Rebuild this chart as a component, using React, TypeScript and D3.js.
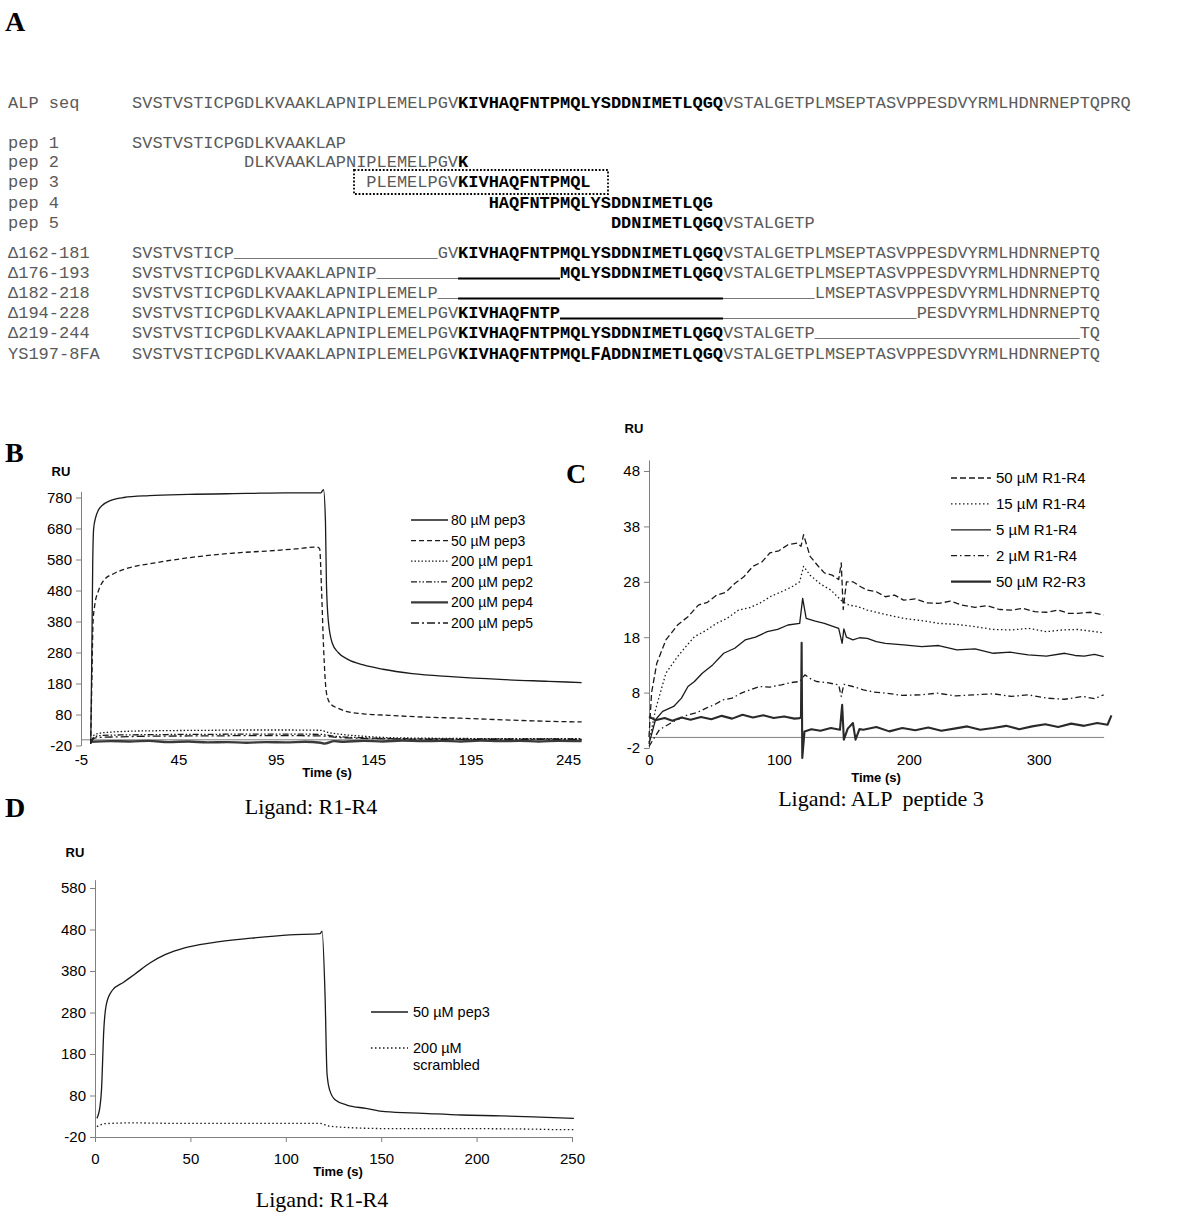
import React, { useEffect, useRef } from 'react'
import * as d3 from 'd3'

const W = 1200
const H = 1217
const SANS = '"Liberation Sans", Arial, sans-serif'
const SERIF = '"Liberation Serif", "Times New Roman", serif'
const MONO = '"Liberation Mono", "Courier New", monospace'

// ---- panel A: sequences ----
const alpSeq =
  'SVSTVSTICPGDLKVAAKLAPNIPLEMELPGVKIVHAQFNTPMQLYSDDNIMETLQGQVSTALGETPLMSEPTASVPPESDVYRMLHDNRNEPTQPRQ'
const boldFrom = 32
const boldTo = 58
const delEnd = 95
const pepLabels = ['pep 1', 'pep 2', 'pep 3', 'pep 4', 'pep 5']
const pepFrom = [0, 11, 23, 35, 47]
const pepTo = [21, 33, 45, 57, 67]
const delLabels = ['Δ162-181', 'Δ176-193', 'Δ182-218', 'Δ194-228', 'Δ219-244']
const delFrom = [10, 24, 30, 42, 67]
const delTo = [30, 42, 67, 77, 93]
const mutLabel = 'YS197-8FA'
const mutAt = 45
const mutLetters = 'FA'

// ---- panel B: ligand R1-R4 ----
const bT80 = [0, 0.6, 1, 1.5, 2.5, 4, 6, 10, 17, 30, 50, 80, 100, 118, 119.5, 120.5, 121, 122, 124, 127, 132, 140, 150, 165, 185, 210, 235, 252]
const bV80 = [-15, 300, 560, 680, 715, 740, 755, 770, 780, 786, 790, 793, 795, 795, 805, 700, 500, 380, 310, 280, 258, 240, 226, 212, 202, 193, 187, 183]
const bT50 = [0, 0.6, 1.2, 2, 4, 7, 12, 19, 32, 52, 72, 92, 105, 116, 117.5, 118.5, 119.5, 121, 123, 127, 131, 140, 151, 170, 190, 215, 235, 252]
const bV50 = [-15, 200, 380, 430, 480, 515, 535, 552, 568, 587, 600, 608, 614, 620, 615, 480, 300, 150, 115, 100, 90, 82, 78, 72, 68, 62, 58, 56]
const bTPep1 = [0, 2, 5, 10, 20, 40, 60, 80, 100, 118, 122, 130, 140, 150, 165, 185, 210, 235, 252]
const bVPep1 = [-10, 15, 20, 23, 26, 28, 29, 30, 30, 29, 22, 15, 10, 6, 4, 3, 2, 2, 2]
const bTLow = [0, 2, 5, 15, 30, 60, 90, 118, 125, 140, 160, 190, 220, 252]
const bVPep2 = [-10, 8, 12, 14, 15, 16, 17, 16, 10, 5, 2, 1, 1, 1]
const bVPep5 = [-10, 4, 6, 8, 10, 11, 12, 11, 7, 3, 1, 0, 0, 0]
const bTPep4 = [0, 10, 20, 30, 40, 50, 60, 70, 80, 90, 100, 110, 118, 120, 125, 130, 140, 150, 160, 170, 180, 190, 200, 210, 220, 230, 240, 252]
const bVPep4 = [-8, -6, -7, -5, -9, -7, -10, -9, -11, -9, -10, -8, -11, -14, -6, -8, -5, -7, -4, -6, -5, -7, -4, -6, -5, -7, -5, -6]
const bLegend = ['80 µM pep3', '50 µM pep3', '200 µM pep1', '200 µM pep2', '200 µM pep4', '200 µM pep5']

// ---- panel C: ligand ALP peptide 3 ----
const cT50 = [0, 2, 6, 13, 22, 30, 38, 45, 52, 59, 66, 73, 80, 87, 93, 100, 107, 114, 117, 119, 124, 130, 135, 141, 146, 148, 149.5, 152, 157, 163, 168, 175, 182, 189, 196, 205, 214, 223, 232, 241, 251, 260, 270, 279, 288, 297, 306, 315, 323, 330, 340, 350]
const cV50 = [0, 8, 13.3, 17.5, 20.2, 21.7, 23.8, 24.3, 25.6, 26.1, 27.7, 28.9, 30.8, 31.6, 33.2, 33.6, 34.7, 35, 34.4, 36.5, 32.6, 30.9, 29.6, 29.2, 28.4, 31.4, 23, 28, 28, 27.1, 26.5, 26.2, 25.3, 25.6, 24.7, 24.9, 24.2, 24.1, 24.5, 23.8, 23.4, 23.7, 23.0, 22.9, 23.2, 22.6, 22.5, 22.9, 22.3, 22.3, 22.5, 22]
const cT15 = [0, 5, 13, 22, 28, 35, 43, 52, 60, 69, 77, 85, 94, 102, 110, 116, 119, 124, 132, 140, 149, 154, 161, 168, 182, 196, 210, 223, 237, 251, 265, 279, 292, 306, 318, 330, 340, 350]
const cV15 = [-1, 4.9, 11.5, 14.5, 16.2, 18.1, 19.1, 20.5, 21.4, 22.9, 23.3, 24.1, 25.4, 26.2, 27.1, 28, 30.8, 29.2, 27.6, 26.5, 24.4, 23.8, 23.5, 22.9, 22.1, 21.4, 21.0, 20.5, 20.3, 19.9, 19.4, 19.3, 19.6, 19, 19.3, 19.4, 19.1, 18.8]
const cT5 = [0, 5, 10.5, 19, 25, 30, 35, 41, 49, 57.5, 66, 74, 82, 91, 99, 107, 116, 118.3, 121, 128, 135, 141, 146, 148.7, 150, 152, 157, 162, 168, 175, 182, 196, 210, 223, 237, 251, 265, 278, 292, 306, 320, 328, 335, 343, 350]
const cV5 = [-1.3, 3.1, 4.6, 5.5, 7.0, 9.1, 10.0, 11.5, 13.0, 15.1, 16.0, 17.5, 18.0, 19, 19.4, 20.2, 20.5, 25, 21.4, 20.9, 20.5, 20.0, 19.6, 16.9, 19.5, 18, 17.5, 17.9, 17.8, 17.2, 16.9, 16.6, 16.3, 16.5, 15.7, 15.9, 15.1, 15.3, 14.8, 14.6, 15.1, 14.7, 14.6, 14.9, 14.5]
const cT2 = [0, 8, 19, 30, 37, 44, 51, 57, 64, 71, 78, 85, 93, 102, 109, 116, 120, 125, 129, 137, 146, 148, 150, 157, 165, 173, 182, 195, 209, 222, 236, 251, 265, 279, 292, 306, 320, 334, 343, 350]
const cV2 = [-1.7, 1.3, 2.8, 4, 4.4, 5.2, 5.9, 6.7, 7.0, 7.9, 8.5, 9.1, 9.0, 9.4, 9.8, 10, 11.2, 10.4, 10, 9.8, 9.4, 7.3, 9.5, 9.1, 8.5, 8.1, 7.9, 7.5, 7.6, 7.9, 7.4, 7.6, 7.8, 7.3, 7.6, 7, 6.8, 7.3, 6.9, 7.6]
const cTR23 = [0, 5, 12, 18, 25, 32, 40, 48, 56, 64, 72, 80, 88, 96, 104, 112, 116, 117, 117.5, 118, 119.7, 125, 132, 140, 147, 148.7, 150, 153, 157, 159, 162, 165, 175, 185, 195, 205, 215, 225, 235, 245, 255, 265, 275, 285, 295, 305, 315, 325, 335, 345, 353, 356]
const cVR23 = [3.7, 3.0, 3.4, 2.9, 3.5, 3.1, 3.6, 3.2, 3.8, 3.3, 4.0, 3.5, 3.9, 3.4, 3.7, 3.3, 3.4, 3.5, 17, -3.8, 1, 1.4, 1.1, 1.6, 1.3, 5.8, -0.5, 1.5, 2.5, -0.5, 1.4, 1.3, 1.8, 1.0, 1.6, 1.2, 1.7, 1.1, 1.5, 1.9, 1.3, 1.6, 2.0, 1.4, 1.9, 2.3, 1.8, 2.4, 2.0, 2.5, 2.2, 3.9]
const cLegend = ['50 µM R1-R4', '15 µM R1-R4', '5 µM R1-R4', '2 µM R1-R4', '50 µM R2-R3']

// ---- panel D: ligand R1-R4 ----
const dT50 = [1, 2.6, 3.4, 4.6, 6, 9, 15, 21, 29, 37, 47, 61, 82, 102, 118, 119, 120.6, 121.6, 123, 126, 132, 142, 152, 172, 192, 213, 233, 251]
const dV50 = [25, 53, 93, 237, 301, 333, 353, 373, 400, 420, 436, 448, 459, 467, 470, 476, 317, 133, 93, 69, 57, 49, 41, 37, 33, 31, 28, 25]
const dTScr = [1, 5, 20, 40, 60, 80, 100, 118, 122, 132, 142, 160, 200, 230, 240, 251]
const dVScr = [5, 12, 14, 13, 13, 13, 13, 13, 7, 3, 1, 0, 0, -1, -2, -2]
const dLegend = [['50 µM pep3'], ['200 µM', 'scrambled']]

type Series = { t: number[]; v: number[]; dash: string; width: number; color: string }
type Chart = {
  xDomain: [number, number]
  xRange: [number, number]
  yDomain: [number, number]
  yRange: [number, number]
  xTicks: number[]
  yTicks: number[]
  xAxisAt: number
  xTickSize: number
  xTickPad: number
  smooth: boolean
  series: Series[]
  legend: string[][]
  legendY: number[]
  legendX: [number, number, number]
  legendFont: number
  ru: [number, number]
  time: [number, number]
  ligand: string
  ligandPos: [number, number]
}

const solid = (t: number[], v: number[]): Series => ({ t, v, dash: '', width: 1.3, color: '#1a1a1a' })
const styled = (t: number[], v: number[], dash: string, width = 1.3, color = '#1a1a1a'): Series => ({ t, v, dash, width, color })

const charts: Chart[] = [
  {
    xDomain: [-5, 252], xRange: [81, 81 + 257 * 1.948],
    yDomain: [-20, 800], yRange: [745.5, 745.5 - 820 * 0.31],
    xTicks: d3.range(-5, 246, 50), yTicks: d3.range(-20, 781, 100),
    xAxisAt: 0, xTickSize: 0, xTickPad: 15.5, smooth: true,
    series: [
      solid(bT80, bV80),
      styled(bT50, bV50, '5,3'),
      styled(bTPep1, bVPep1, '1.5,2'),
      styled(bTLow, bVPep2, '6,2,1.5,2,1.5,2'),
      styled(bTPep4, bVPep4, '', 2.4, '#3a3a3a'),
      styled(bTLow, bVPep5, '8,3,2,3'),
    ],
    legend: bLegend.map((s) => [s]),
    legendY: d3.range(6).map((i) => 520 + i * 20.6),
    legendX: [411, 448, 451], legendFont: 14,
    ru: [61, 471], time: [327, 772],
    ligand: 'Ligand: R1-R4', ligandPos: [311, 814],
  },
  {
    xDomain: [0, 350], xRange: [649, 649 + 350 * 1.299],
    yDomain: [-2, 50], yRange: [748, 748 - 52 * 5.54],
    xTicks: [0, 100, 200, 300], yTicks: d3.range(-2, 49, 10),
    xAxisAt: 0, xTickSize: 0, xTickPad: 17.5, smooth: false,
    series: [
      styled(cT50, cV50, '6,3'),
      styled(cT15, cV15, '1.5,2.5'),
      solid(cT5, cV5),
      styled(cT2, cV2, '6,3,1.5,3'),
      styled(cTR23, cVR23, '', 2.1, '#2a2a2a'),
    ],
    legend: cLegend.map((s) => [s]),
    legendY: d3.range(5).map((i) => 478 + i * 25.9),
    legendX: [951, 991, 996], legendFont: 15,
    ru: [634, 428], time: [876, 777],
    ligand: 'Ligand: ALP  peptide 3', ligandPos: [881, 806],
  },
  {
    xDomain: [0, 250], xRange: [95, 95 + 250 * 1.908],
    yDomain: [-20, 600], yRange: [1137, 1137 - 620 * 0.415],
    xTicks: d3.range(0, 251, 50), yTicks: d3.range(-20, 581, 100),
    xAxisAt: -20, xTickSize: 5, xTickPad: 11, smooth: true,
    series: [solid(dT50, dV50), styled(dTScr, dVScr, '1.5,2.5')],
    legend: dLegend,
    legendY: [1012, 1048],
    legendX: [371, 408, 413], legendFont: 14.5,
    ru: [75, 852], time: [338, 1171],
    ligand: 'Ligand: R1-R4', ligandPos: [322, 1207],
  },
]

const CW = 10.19
const SX = 132
const seqX = (i: number) => SX + i * CW
const isBold = (i: number) => i >= boldFrom && i < boldTo

type G = d3.Selection<SVGGElement, unknown, null, undefined>

function seqText(g: G, from: number, to: number, y: number) {
  let i = from
  while (i < to) {
    const b = isBold(i)
    let j = i
    while (j < to && isBold(j) === b) j++
    g.append('text')
      .attr('x', seqX(i))
      .attr('y', y)
      .attr('dy', '0.35em')
      .attr('textLength', (j - i) * CW)
      .attr('lengthAdjust', 'spacingAndGlyphs')
      .style('font-family', MONO)
      .style('font-size', '17px')
      .style('font-weight', b ? 700 : 400)
      .style('fill', b ? '#000' : '#5a5a5a')
      .text(alpSeq.slice(i, j))
    i = j
  }
}

function gapLine(g: G, from: number, to: number, y: number) {
  const cuts = [from, ...[boldFrom, boldTo].filter((c) => c > from && c < to), to]
  for (let k = 0; k < cuts.length - 1; k++) {
    const b = isBold(cuts[k])
    g.append('line')
      .attr('x1', seqX(cuts[k]))
      .attr('x2', seqX(cuts[k + 1]))
      .attr('y1', y + 6.5)
      .attr('y2', y + 6.5)
      .attr('stroke', b ? '#000' : '#777')
      .attr('stroke-width', b ? 2 : 1)
  }
}

function rowLabel(g: G, label: string, y: number) {
  g.append('text')
    .attr('x', 8)
    .attr('y', y)
    .attr('dy', '0.35em')
    .style('font-family', MONO)
    .style('font-size', '17px')
    .style('fill', '#5a5a5a')
    .text(label)
}

function drawPanelA(g: G) {
  rowLabel(g, 'ALP seq', 102)
  seqText(g, 0, alpSeq.length, 102)

  const pepY = [142, 161, 181, 202, 222]
  pepLabels.forEach((l, k) => {
    rowLabel(g, l, pepY[k])
    seqText(g, pepFrom[k], pepTo[k], pepY[k])
  })
  // dotted box round pep 3
  g.append('rect')
    .attr('x', 354)
    .attr('y', 170)
    .attr('width', 254)
    .attr('height', 24)
    .attr('fill', 'none')
    .attr('stroke', '#000')
    .attr('stroke-width', 1.8)
    .attr('stroke-dasharray', '1.8,1.8')

  const delY = [252, 272, 292, 312, 332]
  delLabels.forEach((l, k) => {
    rowLabel(g, l, delY[k])
    seqText(g, 0, delFrom[k], delY[k])
    gapLine(g, delFrom[k], delTo[k], delY[k])
    seqText(g, delTo[k], delEnd, delY[k])
  })

  const my = 353
  rowLabel(g, mutLabel, my)
  seqText(g, 0, mutAt, my)
  g.append('text')
    .attr('x', seqX(mutAt))
    .attr('y', my + 6.5)
    .attr('textLength', 2 * CW)
    .attr('lengthAdjust', 'spacingAndGlyphs')
    .style('font-family', MONO)
    .style('font-size', '21px')
    .style('font-weight', 700)
    .style('fill', '#000')
    .text(mutLetters)
  seqText(g, mutAt + 2, delEnd, my)
}

function drawChart(root: G, c: Chart) {
  const x = d3.scaleLinear().domain(c.xDomain).range(c.xRange)
  const y = d3.scaleLinear().domain(c.yDomain).range(c.yRange)
  const g = root.append('g')

  const styleAxis = (a: G) => {
    a.select('.domain').attr('stroke', '#808080')
    a.selectAll('.tick line').attr('stroke', '#808080')
    a.selectAll('.tick text').style('font-family', SANS).style('font-size', '15px').attr('fill', '#000')
  }
  const fmt = (d: d3.NumberValue) => String(d)

  const ya = g
    .append('g')
    .attr('transform', `translate(${c.xRange[0]},0)`)
    .call(d3.axisLeft(y).tickValues(c.yTicks).tickSize(5).tickSizeOuter(0).tickPadding(4).tickFormat(fmt))
  styleAxis(ya)

  const xa = g
    .append('g')
    .attr('transform', `translate(0,${y(c.xAxisAt)})`)
    .call(d3.axisBottom(x).tickValues(c.xTicks).tickSize(c.xTickSize).tickSizeOuter(0).tickPadding(c.xTickPad).tickFormat(fmt))
  styleAxis(xa)

  const line = d3
    .line<[number, number]>()
    .x((d) => x(d[0]))
    .y((d) => y(d[1]))
    .curve(c.smooth ? d3.curveMonotoneX : d3.curveLinear)

  c.series.forEach((s) => {
    g.append('path')
      .datum(s.t.map((t, i) => [t, s.v[i]] as [number, number]))
      .attr('d', line)
      .attr('fill', 'none')
      .attr('stroke', s.color)
      .attr('stroke-width', s.width)
      .attr('stroke-dasharray', s.dash || null)
      .attr('stroke-linejoin', 'round')
  })

  // legend
  c.legend.forEach((lines, i) => {
    const s = c.series[i]
    const ly = c.legendY[i]
    g.append('line')
      .attr('x1', c.legendX[0])
      .attr('x2', c.legendX[1])
      .attr('y1', ly)
      .attr('y2', ly)
      .attr('stroke', s.color)
      .attr('stroke-width', s.width)
      .attr('stroke-dasharray', s.dash || null)
    lines.forEach((txt, k) => {
      g.append('text')
        .attr('x', c.legendX[2])
        .attr('y', ly + k * 17)
        .attr('dy', '0.35em')
        .style('font-family', SANS)
        .style('font-size', `${c.legendFont}px`)
        .style('fill', '#000')
        .text(txt)
    })
  })

  g.append('text')
    .attr('x', c.ru[0])
    .attr('y', c.ru[1])
    .attr('dy', '0.35em')
    .attr('text-anchor', 'middle')
    .style('font-family', SANS)
    .style('font-size', '13px')
    .style('font-weight', 700)
    .text('RU')

  g.append('text')
    .attr('x', c.time[0])
    .attr('y', c.time[1])
    .attr('dy', '0.35em')
    .attr('text-anchor', 'middle')
    .style('font-family', SANS)
    .style('font-size', '13px')
    .style('font-weight', 700)
    .text('Time (s)')

  g.append('text')
    .attr('x', c.ligandPos[0])
    .attr('y', c.ligandPos[1])
    .attr('text-anchor', 'middle')
    .style('font-family', SERIF)
    .style('font-size', '22px')
    .style('white-space', 'pre')
    .text(c.ligand)
}

export default function App() {
  const svgRef = useRef<SVGSVGElement>(null)

  useEffect(() => {
    if (!svgRef.current) return
    const svg = d3.select(svgRef.current)
    svg.selectAll('*').remove()
    const root = svg.append('g') as unknown as G

    root.append('rect').attr('width', W).attr('height', H).attr('fill', '#fff')

    const letters: [string, number, number][] = [
      ['A', 5, 31],
      ['B', 5, 462],
      ['C', 566, 483],
      ['D', 5, 817],
    ]
    letters.forEach(([l, lx, ly]) => {
      root
        .append('text')
        .attr('x', lx)
        .attr('y', ly)
        .style('font-family', SERIF)
        .style('font-size', '28px')
        .style('font-weight', 700)
        .text(l)
    })

    drawPanelA(root)
    charts.forEach((c) => drawChart(root, c))
  }, [])

  return (
    <svg
      ref={svgRef}
      width={W}
      height={H}
      style={{ position: 'absolute', left: 0, top: 0, background: '#fff' }}
    />
  )
}
